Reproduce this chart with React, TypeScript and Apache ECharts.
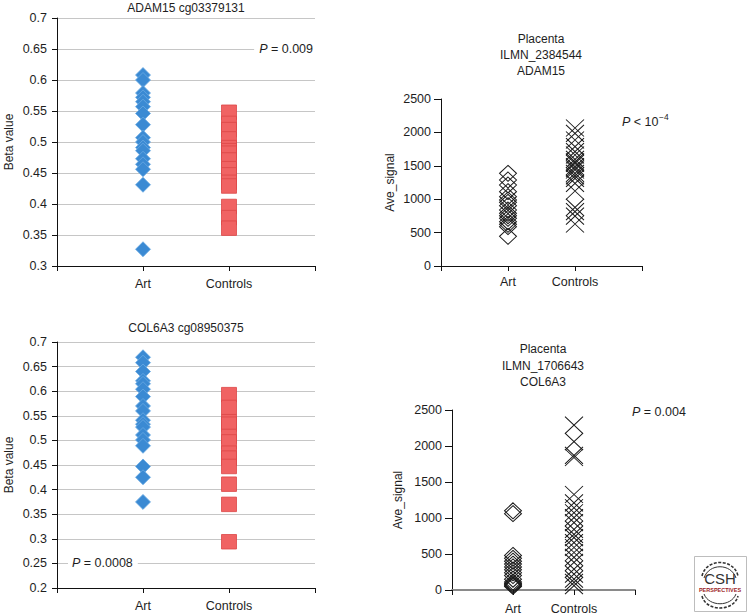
import { useEffect, useRef } from "react";
import * as echarts from "echarts";

const categories = ["Art", "Controls"];

// Top-left: ADAM15 cg03379131 (Beta value)
const artBetaADAM15 = [0.608, 0.6, 0.579, 0.572, 0.565, 0.557, 0.546, 0.528, 0.507, 0.5, 0.491, 0.486, 0.473, 0.464, 0.456, 0.431, 0.327];
const ctrlBetaADAM15 = [0.548, 0.53, 0.52, 0.505, 0.491, 0.486, 0.482, 0.471, 0.457, 0.447, 0.435, 0.429, 0.396, 0.378, 0.361];

// Top-right: Placenta ILMN_2384544 ADAM15 (Ave_signal)
const artSignalADAM15 = [1387, 1287, 1213, 1113, 1038, 988, 953, 903, 838, 788, 753, 713, 663, 624, 589, 444];
const ctrlSignalADAM15 = [2066, 1986, 1886, 1786, 1711, 1662, 1597, 1560, 1537, 1487, 1460, 1437, 1387, 1350, 1313, 1238, 1123, 878, 813, 748, 629];

// Bottom-left: COL6A3 cg08950375 (Beta value)
const artBetaCOL6A3 = [0.669, 0.658, 0.64, 0.621, 0.615, 0.604, 0.589, 0.57, 0.56, 0.541, 0.533, 0.527, 0.511, 0.501, 0.489, 0.447, 0.425, 0.375];
const ctrlBetaCOL6A3 = [0.593, 0.567, 0.538, 0.533, 0.508, 0.497, 0.474, 0.464, 0.447, 0.411, 0.37, 0.294];

// Bottom-right: Placenta ILMN_1706643 COL6A3 (Ave_signal)
const artSignalCOL6A3 = [1100, 1060, 480, 440, 400, 360, 320, 280, 240, 200, 150, 110, 90, 75, 60, 50];
const ctrlSignalCOL6A3 = [2290, 2060, 1870, 1840, 1326, 1211, 1142, 1073, 1004, 935, 843, 773, 727, 659, 590, 521, 452, 383, 290, 221, 152, 106, 60];

const betaTicksTop = { min: 0.3, max: 0.7, interval: 0.05 };
const betaTicksBottom = { min: 0.2, max: 0.7, interval: 0.05 };
const signalTicks = { min: 0, max: 2500, interval: 500 };

const FONT = "'Liberation Sans', Arial, Helvetica, sans-serif";
const TXT = "#1e1e1e";

function pts(vals: number[], x: number) {
  return vals.map((v) => [x, v]);
}

export default function App() {
  const ref = useRef<HTMLDivElement>(null);
  useEffect(() => {
    const chart = echarts.init(ref.current!, null, { renderer: "svg" });
    const grids = [
      { left: 57, top: 18, width: 258, height: 248 },
      { left: 441, top: 99, width: 201, height: 167 },
      { left: 57, top: 342, width: 258, height: 246 },
      { left: 452, top: 410, width: 183, height: 181 },
    ];
    const labelMargins = [11, 9, 11, 12];
    const xAxis = grids.map((_, i) => ({
      gridIndex: i,
      type: "value",
      min: 0,
      max: 3,
      interval: 1,
      axisLine: { show: true, lineStyle: { color: i === 3 ? "#8a8a8a" : "#111", width: i === 3 ? 2 : 1 } },
      axisTick: { show: true, length: 5, lineStyle: { color: "#111" } },
      axisLabel: {
        margin: labelMargins[i],
        color: TXT,
        fontSize: 12.5,
        fontFamily: FONT,
        formatter: (v: number) => (v === 1 ? categories[0] : v === 2 ? categories[1] : ""),
      },
      splitLine: { show: false },
    }));
    const betaAxis = (i: number, t: { min: number; max: number; interval: number }) => ({
      gridIndex: i,
      type: "value",
      ...t,
      name: "Beta value",
      nameLocation: "middle",
      nameGap: 42,
      nameTextStyle: { color: TXT, fontSize: 12, fontFamily: FONT },
      axisLine: { show: true, lineStyle: { color: "#111" } },
      axisTick: { show: true, length: 5, lineStyle: { color: "#111" } },
      axisLabel: {
        margin: 10,
        color: TXT,
        fontSize: 12.5,
        fontFamily: FONT,
        formatter: (v: number) => String(parseFloat(v.toFixed(2))),
      },
      splitLine: { show: true, lineStyle: { color: "#c6c6c6", width: 1.2 } },
    });
    const signalAxis = (i: number, gap: number) => ({
      gridIndex: i,
      type: "value",
      ...signalTicks,
      name: "Ave_signal",
      nameLocation: "middle",
      nameGap: gap,
      nameTextStyle: { color: TXT, fontSize: 12, fontFamily: FONT },
      axisLine: { show: true, lineStyle: { color: "#111" } },
      axisTick: { show: true, length: 7, lineStyle: { color: "#111" } },
      axisLabel: {
        margin: 10,
        color: TXT,
        fontSize: 12.5,
        fontFamily: FONT,
        formatter: (v: number) => String(Math.round(v)),
      },
      splitLine: { show: false },
    });
    const yAxis = [betaAxis(0, betaTicksTop), signalAxis(1, 45), betaAxis(2, betaTicksBottom), signalAxis(3, 48)];

    const diamondBlue = {
      type: "scatter",
      symbol: "diamond",
      symbolSize: 15,
      itemStyle: { color: "#3b8ad3", borderColor: "#6aa9e2", borderWidth: 0.8, opacity: 1 },
    };
    const squareRed = {
      type: "scatter",
      symbol: "rect",
      symbolSize: [15, 14.5],
      itemStyle: { color: "#f06363", borderColor: "#dc4646", borderWidth: 0.8, opacity: 1 },
    };
    const diamondHollow = {
      type: "scatter",
      symbol: "diamond",
      symbolSize: [17, 16],
      itemStyle: { color: "rgba(0,0,0,0)", borderColor: "#1a1a1a", borderWidth: 1, opacity: 1 },
    };
    const crossMark = {
      type: "scatter",
      symbol: "path://M0 0L18 17M18 0L0 17",
      symbolSize: [18, 17],
      itemStyle: { color: "rgba(0,0,0,0)", borderColor: "#1a1a1a", borderWidth: 1, opacity: 1 },
    };

    const series = [
      { ...diamondBlue, name: "Art", xAxisIndex: 0, yAxisIndex: 0, data: pts(artBetaADAM15, 1) },
      { ...squareRed, name: "Controls", xAxisIndex: 0, yAxisIndex: 0, data: pts(ctrlBetaADAM15, 2) },
      { ...diamondHollow, name: "Art", xAxisIndex: 1, yAxisIndex: 1, data: pts(artSignalADAM15, 1) },
      { ...crossMark, name: "Controls", xAxisIndex: 1, yAxisIndex: 1, data: pts(ctrlSignalADAM15, 2) },
      { ...diamondBlue, name: "Art", xAxisIndex: 2, yAxisIndex: 2, data: pts(artBetaCOL6A3, 1) },
      { ...squareRed, name: "Controls", xAxisIndex: 2, yAxisIndex: 2, data: pts(ctrlBetaCOL6A3, 2) },
      { ...diamondHollow, name: "Art", xAxisIndex: 3, yAxisIndex: 3, data: pts(artSignalCOL6A3, 1) },
      { ...crossMark, name: "Controls", xAxisIndex: 3, yAxisIndex: 3, data: pts(ctrlSignalCOL6A3, 2) },
    ];

    const t = (x: number, y: number, text: string, extra: any = {}) => ({
      type: "text",
      x,
      y,
      z: 100,
      style: {
        text,
        fill: TXT,
        fontSize: 12,
        fontFamily: FONT,
        align: "center",
        verticalAlign: "middle",
        ...extra,
      },
    });
    const pRich = {
      i: { fontStyle: "italic", fontSize: 12.5, fontFamily: FONT, fill: TXT },
      n: { fontSize: 12.5, fontFamily: FONT, fill: TXT },
    };

    const graphic = [
      t(186, 8, "ADAM15 cg03379131"),
      t(186, 328, "COL6A3 cg08950375"),
      t(541, 39, "Placenta"),
      t(541, 55, "ILMN_2384544"),
      t(541, 71, "ADAM15"),
      t(543, 349, "Placenta"),
      t(543, 366, "ILMN_1706643"),
      t(543, 382, "COL6A3"),
      t(315, 49, "{i|P}{n| = 0.009}", { align: "right", rich: pRich, backgroundColor: "#fff", padding: [1, 2, 1, 5] }),
      t(68, 563, "{i|P}{n| = 0.0008}", { align: "left", rich: pRich, backgroundColor: "#fff", padding: [1, 5, 1, 4] }),
      t(632, 412, "{i|P}{n| = 0.004}", { align: "left", rich: pRich }),
      t(622, 122, "{i|P}{n| < 10}", { align: "left", rich: pRich }),
      t(659, 117, "\u22124", { align: "left", fontSize: 8.5 }),
      // CSH Perspectives logo
      {
        type: "rect",
        z: 100,
        shape: { x: 694.5, y: 556.5, width: 52, height: 55 },
        style: { fill: "#fff", stroke: "#bdbdbd", lineWidth: 1 },
      },
      {
        type: "bezierCurve",
        z: 101,
        shape: { x1: 702, y1: 576, x2: 738, y2: 576, cpx1: 706, cpy1: 558, cpx2: 734, cpy2: 558 },
        style: { stroke: "#333", fill: "none", lineWidth: 1.6, lineDash: [3, 1.5] },
      },
      {
        type: "bezierCurve",
        z: 101,
        shape: { x1: 704, y1: 578, x2: 736, y2: 578, cpx1: 709, cpy1: 563, cpx2: 731, cpy2: 563 },
        style: { stroke: "#333", fill: "none", lineWidth: 1 },
      },
      {
        type: "bezierCurve",
        z: 101,
        shape: { x1: 702, y1: 596, x2: 738, y2: 596, cpx1: 706, cpy1: 612, cpx2: 734, cpy2: 612 },
        style: { stroke: "#333", fill: "none", lineWidth: 1.6, lineDash: [3, 1.5] },
      },
      {
        type: "bezierCurve",
        z: 101,
        shape: { x1: 704, y1: 594, x2: 736, y2: 594, cpx1: 709, cpy1: 607, cpx2: 731, cpy2: 607 },
        style: { stroke: "#333", fill: "none", lineWidth: 1 },
      },
      t(720, 578, "CSH", { fontSize: 15, fill: "#333", z: 102 }),
      t(720, 590, "PERSPECTIVES", { fontSize: 5.5, fontWeight: "bold", fill: "#9b2226" }),
    ];

    chart.setOption({
      animation: false,
      backgroundColor: "#fff",
      grid: grids.map((g) => ({ ...g, containLabel: false })),
      xAxis,
      yAxis,
      series,
      graphic,
    } as any);
    return () => chart.dispose();
  }, []);
  return (
    <div
      ref={ref}
      style={{ position: "fixed", left: 0, top: 0, width: 755, height: 615, background: "#fff" }}
    />
  );
}
